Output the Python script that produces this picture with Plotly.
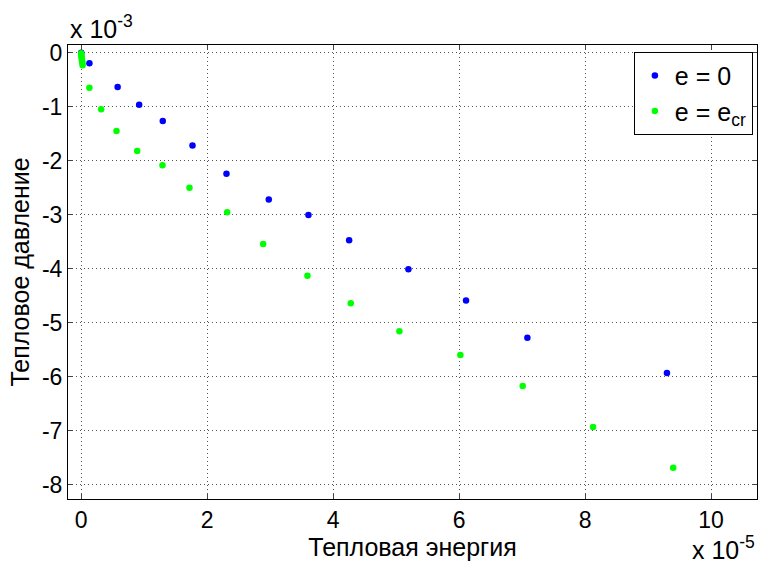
import plotly.graph_objects as go

# Thermal energy (x, units of 1e-5) and thermal pressure (y, units of 1e-3)
x_e0 = [0.0, 0.13, 0.578, 0.92, 1.295, 1.767, 2.306, 2.978, 3.608, 4.254, 5.195, 6.11, 7.084, 9.30]
y_e0 = [0.0, -0.196, -0.635, -0.963, -1.265, -1.72, -2.24, -2.72, -3.006, -3.474, -4.01, -4.59, -5.28, -5.93]

x_ecr = [0.0, 0.002, 0.004, 0.007, 0.010, 0.014, 0.018, 0.022, 0.13, 0.317, 0.56, 0.889, 1.29, 1.719, 2.317,
         2.889, 3.592, 4.28, 5.052, 6.02, 7.01, 8.127, 9.40]
y_ecr = [-0.01, -0.04, -0.07, -0.10, -0.13, -0.16, -0.19, -0.23, -0.648, -1.048, -1.45, -1.82, -2.085, -2.5, -2.956,
         -3.543, -4.13, -4.64, -5.16, -5.60, -6.17, -6.93, -7.685]

x_ticks = [0, 2, 4, 6, 8, 10]
y_ticks = [0, -1, -2, -3, -4, -5, -6, -7, -8]

FONT = "Liberation Sans, Arial, sans-serif"
FS_TICK = 23
FS_TITLE = 25
FS_LEG = 25

fig = go.Figure()
fig.add_trace(go.Scatter(x=x_e0, y=y_e0, mode="markers", name="e = 0",
                         marker=dict(color="#0000FF", size=6.5)))
fig.add_trace(go.Scatter(x=x_ecr, y=y_ecr, mode="markers", name="e = e<sub>cr</sub>",
                         marker=dict(color="#00FF00", size=6.5)))

axis_common = dict(
    showline=True, linecolor="black", linewidth=1, mirror="ticks",
    ticks="inside", ticklen=5, tickcolor="#444444", tickwidth=1,
    showgrid=True, gridcolor="#555555", griddash="1px,3px", gridwidth=1,
    zeroline=False, tickfont=dict(family=FONT, size=FS_TICK, color="black"),
)

fig.update_layout(
    width=761, height=563,
    margin=dict(l=68, r=4, t=45, b=64),
    paper_bgcolor="white", plot_bgcolor="white",
    font=dict(family=FONT, size=FS_TICK, color="black"),
    xaxis=dict(range=[-0.21, 10.73], tickvals=x_ticks, ticktext=[str(v) for v in x_ticks],
               title=dict(text="Тепловая энергия", font=dict(family=FONT, size=FS_TITLE), standoff=2),
               **axis_common),
    yaxis=dict(range=[-8.265, 0.143], tickvals=y_ticks, ticktext=[str(v) for v in y_ticks],
               title=dict(text="Тепловое давление", font=dict(family=FONT, size=FS_TITLE), standoff=5),
               **axis_common),
    legend=dict(x=0.994, y=0.985, xanchor="right", yanchor="top",
                bgcolor="white", bordercolor="black", borderwidth=1,
                font=dict(family=FONT, size=FS_LEG, color="black")),
    showlegend=True,
)

fig.add_annotation(text="x 10<sup>-3</sup>", xref="paper", yref="paper", x=0.0, y=1.0,
                   xanchor="left", yanchor="bottom", showarrow=False,
                   font=dict(family=FONT, size=FS_TITLE, color="black"), yshift=0)
fig.add_annotation(text="x 10<sup>-5</sup>", xref="paper", yref="paper", x=1.0, y=0,
                   xanchor="right", yanchor="top", showarrow=False,
                   font=dict(family=FONT, size=FS_TITLE, color="black"), yshift=-31)

fig.write_html("out.html")
